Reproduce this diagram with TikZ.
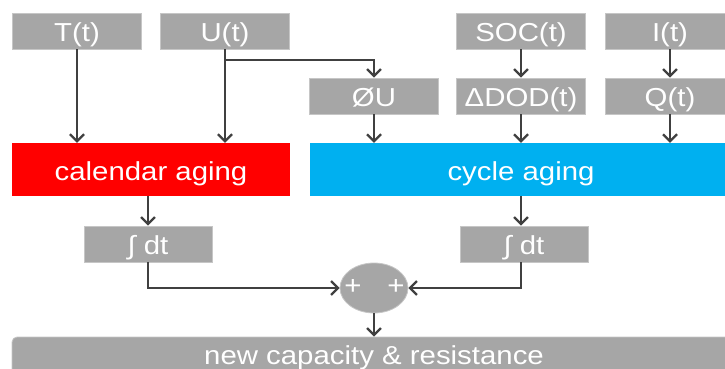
\documentclass[tikz,border=0pt]{standalone}
\usepackage{fontspec}
\setmainfont{Liberation Sans}[FakeStretch=1.13]
\usetikzlibrary{arrows.meta,shapes.geometric}
\definecolor{boxgray}{HTML}{A6A6A6}
\definecolor{edgegray}{HTML}{C6C6C6}
\definecolor{linegray}{HTML}{404040}
\definecolor{calred}{HTML}{FF0000}
\definecolor{cycblue}{HTML}{00B0F0}

\begin{document}
\begin{tikzpicture}[x=1pt,y=-1pt,
  boxfont/.style={font=\fontsize{26}{26}\selectfont},
  lowtext/.style={text height=21pt,text depth=0pt},
  signal/.style={boxfont,lowtext,fill=boxgray,draw=edgegray,line width=0.8pt,text=white,
    minimum width=129pt,minimum height=36pt,inner sep=0pt},
  agebox/.style={boxfont,lowtext,draw=none,text=white,minimum height=53pt,inner sep=0pt},
  flow/.style={draw=linegray,line width=2.2pt,
    -{Straight Barb[length=7pt,width=14pt,line width=2.2pt]}}]

% Picture frame
\useasboundingbox (0,0) rectangle (725,369);
\clip (0,0) rectangle (725,369);

% Input signals (top row)
\node[signal] (T)   at (77,31)  {T(t)};
\node[signal] (U)   at (225,31) {U(t)};
\node[signal] (SOC) at (521,31) {SOC(t)};
\node[signal] (I)   at (670,31) {I(t)};

% Derived signals (second row)
\node[signal] (dU)  at (374,96) {ØU};
\node[signal] (DOD) at (521,96) {ΔDOD(t)};
\node[signal] (Q)   at (670,96) {Q(t)};

% Aging models
\node[agebox,fill=calred,minimum width=278pt]  (cal) at (151,169.5) {calendar aging};
\node[agebox,fill=cycblue,minimum width=430pt] (cyc) at (525,169.5) {};
\node[boxfont,lowtext,text=white,inner sep=0pt] (cyclbl) at (521,169.5) {cycle aging};

% Integrators
\node[signal,minimum width=128pt] (intL) at (148,244) {∫ dt};
\node[signal,minimum width=128pt] (intR) at (524,244) {∫ dt};

% Summation point
\node[ellipse,fill=boxgray,draw=edgegray,line width=0.8pt,
  minimum width=68pt,minimum height=50pt] (sum) at (374,288) {};
\node[boxfont,text=white,inner sep=0pt] (plusL) at (353,287) {+};
\node[boxfont,text=white,inner sep=0pt] (plusR) at (396,287) {+};

% Result
\node[fill=boxgray,draw=edgegray,line width=0.8pt,rounded corners=5pt,
  minimum width=730pt,minimum height=64pt] (out) at (377,369) {};
\node[boxfont,text=white] (outlbl) at (374,358) {new capacity \& resistance};

% Connections
\coordinate (split) at (225,60);
\draw[flow] (T.south) -- (T.south |- cal.north);
\draw[flow] (U.south) -- (U.south |- cal.north);
\draw[flow] (split) -| (dU.north);
\draw[flow] (SOC) -- (DOD);
\draw[flow] (I) -- (Q);
\draw[flow] (dU.south) -- (dU.south |- cyc.north);
\draw[flow] (DOD.south) -- (DOD.south |- cyc.north);
\draw[flow] (Q.south) -- (Q.south |- cyc.north);
\draw[flow] (intL.north |- cal.south) -- (intL.north);
\draw[flow] (cyclbl.south |- cyc.south) -- (cyclbl.south |- intR.north);
\draw[flow] (intL.south) |- (sum.west);
\draw[flow] (cyclbl.south |- intR.south) |- (sum.east);
\draw[flow] (sum.south) -- (sum.south |- out.north);
\end{tikzpicture}
\end{document}
